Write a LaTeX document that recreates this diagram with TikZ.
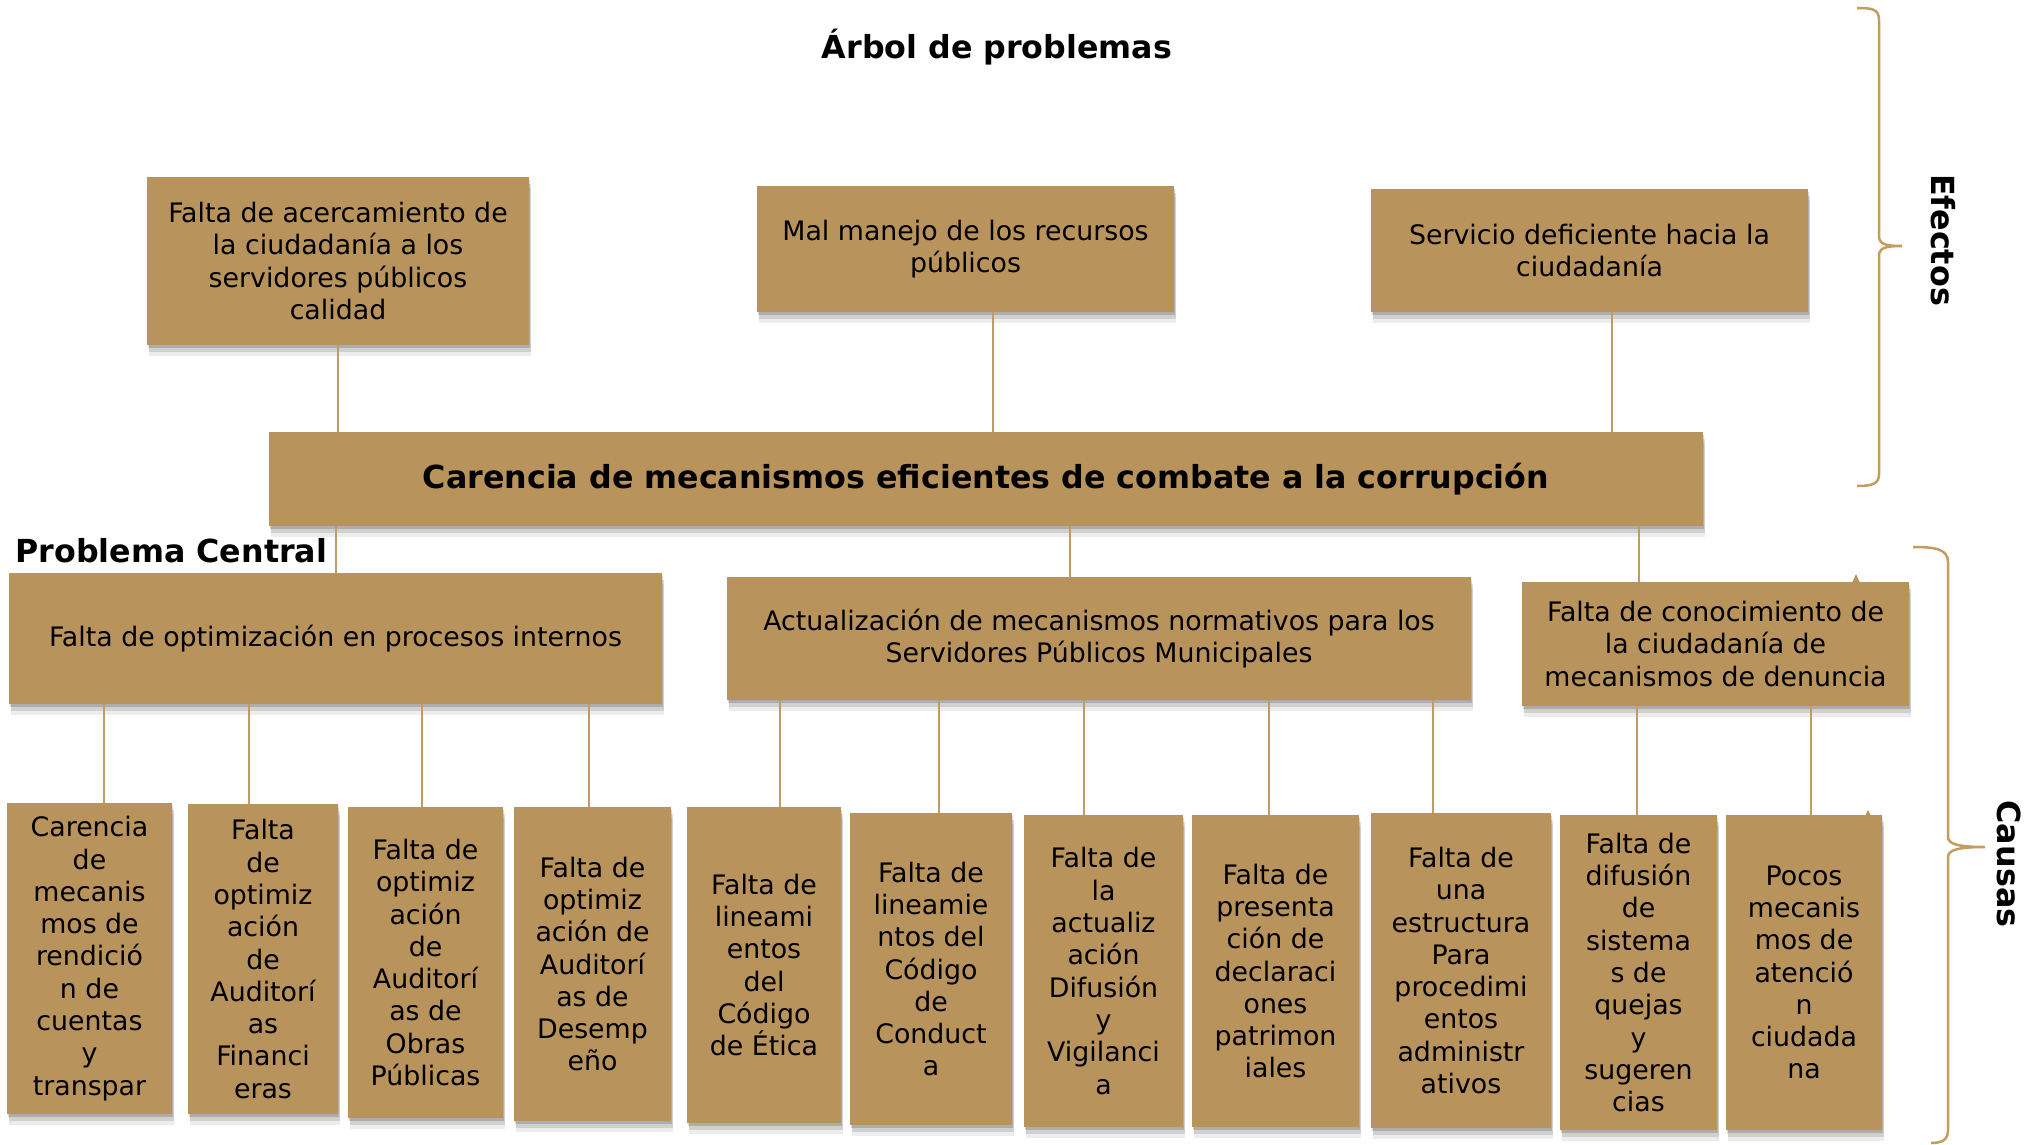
\documentclass[tikz,border=0pt]{standalone}
\usepackage{fontspec}
\setmainfont{DejaVu Sans}
\usetikzlibrary{shadows}
\definecolor{boxtan}{HTML}{B9935C}
\definecolor{linetan}{HTML}{C09B63}
\definecolor{bracetan}{HTML}{C49C5E}
\newcommand{\ArbolBox}[6]{%
  \node[box, minimum width={(#4-#2)*1pt}, minimum height={(#5-#3)*1pt}] (#1) at ({(#2+#4)/2},{(#3+#5)/2}) {#6};}
\begin{document}
\begin{tikzpicture}[x=1pt,y=-1pt,
  box/.style={fill=boxtan, draw=none, inner sep=0pt, align=center, text=black,
    font=\fontsize{26.8}{32.3}\selectfont,
    drop shadow={shadow xshift=1pt, shadow yshift=-3pt, opacity=0.16, fill=black},
    drop shadow={shadow xshift=2pt, shadow yshift=-7pt, opacity=0.12, fill=black},
    drop shadow={shadow xshift=2pt, shadow yshift=-11pt, opacity=0.07, fill=black}},
  conn/.style={draw=linetan, line width=2pt},
  brace/.style={draw=bracetan, line width=2.5pt},
  bigtxt/.style={font=\bfseries\fontsize{31.7}{38}\selectfont},
  sidetxt/.style={font=\bfseries\fontsize{31.8}{38}\selectfont, rotate=-90},
]
\useasboundingbox (0,0) rectangle (2028,1145);
\fill[white] (0,0) rectangle (2028,1145);

% title
\node[bigtxt] (title) at (997,47) {Árbol de problemas};

% effects
\ArbolBox{e1}{147}{177}{529}{345}{Falta de acercamiento de\\la ciudadanía a los\\servidores públicos\\calidad}
\ArbolBox{e2}{757}{186}{1174}{312}{Mal manejo de los recursos\\públicos}
\ArbolBox{e3}{1371}{189}{1808}{312}{Servicio deficiente hacia la\\ciudadanía}

% central problem
\node[box, font=\bfseries\fontsize{31.7}{38}\selectfont, minimum width=1434pt, minimum height=94pt] (c) at (986,479) {Carencia de mecanismos eficientes de combate a la corrupción};
\node[bigtxt, anchor=west] (pc) at (12,551) {Problema Central};

% causes level 1
\ArbolBox{a}{9}{573}{662}{704}{Falta de optimización en procesos internos}
\ArbolBox{b}{727}{577}{1471}{700}{Actualización de mecanismos normativos para los\\Servidores Públicos Municipales}
\ArbolBox{cc}{1522}{582}{1909}{706}{Falta de conocimiento de\\la ciudadanía de\\mecanismos de denuncia}

% causes level 2
\ArbolBox{q1}{7}{803}{172}{1114}{Carencia\\de\\mecanis\\mos de\\rendició\\n de\\cuentas\\y\\transpar}
\ArbolBox{q2}{188}{804}{338}{1114}{Falta\\de\\optimiz\\ación\\de\\Auditorí\\as\\Financi\\eras}
\ArbolBox{q3}{348}{807}{503}{1118}{Falta de\\optimiz\\ación\\de\\Auditorí\\as de\\Obras\\Públicas}
\ArbolBox{q4}{514}{807}{671}{1121}{Falta de\\optimiz\\ación de\\Auditorí\\as de\\Desemp\\eño}
\ArbolBox{q5}{687}{807}{841}{1123}{Falta de\\lineami\\entos\\del\\Código\\de Ética}
\ArbolBox{q6}{850}{813}{1012}{1125}{Falta de\\lineamie\\ntos del\\Código\\de\\Conduct\\a}
\ArbolBox{q7}{1024}{815}{1183}{1127}{Falta de\\la\\actualiz\\ación\\Difusión\\y\\Vigilanci\\a}
\ArbolBox{q8}{1192}{815}{1359}{1127}{Falta de\\presenta\\ción de\\declaraci\\ones\\patrimon\\iales}
\ArbolBox{q9}{1371}{813}{1551}{1128}{Falta de\\una\\estructura\\Para\\procedimi\\entos\\administr\\ativos}
\ArbolBox{q10}{1560}{815}{1717}{1130}{Falta de\\difusión\\de\\sistema\\s de\\quejas\\y\\sugeren\\cias}
\ArbolBox{q11}{1726}{815}{1882}{1130}{Pocos\\mecanis\\mos de\\atenció\\n\\ciudada\\na}

% tiny marks
\fill[boxtan] (1852,583) -- (1856,574) -- (1860,583) -- cycle;
\fill[boxtan] (1865,816) -- (1868,810) -- (1871,816) -- cycle;

% connector x positions
\coordinate (x2) at (993,0);
\coordinate (x3) at (1612,0);
\coordinate (xb) at (1070,0);
\coordinate (xc) at (1639,0);
\coordinate (l1) at (104,0);
\coordinate (l2) at (249,0);
\coordinate (l3) at (422,0);
\coordinate (l4) at (589,0);
\coordinate (l5) at (780,0);
\coordinate (l6) at (939,0);
\coordinate (l7) at (1084,0);
\coordinate (l8) at (1269,0);
\coordinate (l9) at (1433,0);
\coordinate (l10) at (1637,0);
\coordinate (l11) at (1811,0);

% connectors effects -> central
\draw[conn] (e1.south) -- (c.north -| e1.south);
\draw[conn] (e2.south -| x2) -- (c.north -| x2);
\draw[conn] (e3.south -| x3) -- (c.north -| x3);
% central -> causes
\draw[conn] (c.south -| a.north) -- (a.north);
\draw[conn] (c.south -| xb) -- (b.north -| xb);
\draw[conn] (c.south -| xc) -- (cc.north -| xc);
% causes -> sub causes
\draw[conn] (a.south -| l1) -- (q1.north -| l1);
\draw[conn] (a.south -| l2) -- (q2.north -| l2);
\draw[conn] (a.south -| l3) -- (q3.north -| l3);
\draw[conn] (a.south -| l4) -- (q4.north -| l4);
\draw[conn] (b.south -| l5) -- (q5.north -| l5);
\draw[conn] (b.south -| l6) -- (q6.north -| l6);
\draw[conn] (b.south -| l7) -- (q7.north -| l7);
\draw[conn] (b.south -| l8) -- (q8.north -| l8);
\draw[conn] (b.south -| l9) -- (q9.north -| l9);
\draw[conn] (cc.south -| l10) -- (q10.north -| l10);
\draw[conn] (cc.south -| l11) -- (q11.north -| l11);

% braces
\draw[brace] (1857,8) .. controls (1872,8) and (1879,9) .. (1879,20) -- (1879,236)
  .. controls (1879,244) and (1885,246) .. (1902,246)
  .. controls (1885,246) and (1879,248) .. (1879,256) -- (1879,474)
  .. controls (1879,484) and (1872,486) .. (1857,486);
\node[sidetxt] (ef) at (1943,240) {Efectos};

\draw[brace] (1913,547) .. controls (1935,547) and (1948,549) .. (1948,562) -- (1948,837)
  .. controls (1948,844) and (1958,847) .. (1985,847)
  .. controls (1958,847) and (1948,850) .. (1948,857) -- (1948,1130)
  .. controls (1948,1140) and (1942,1143) .. (1931,1143);
\node[sidetxt] (ca) at (2009,864) {Causas};
\end{tikzpicture}
\end{document}
